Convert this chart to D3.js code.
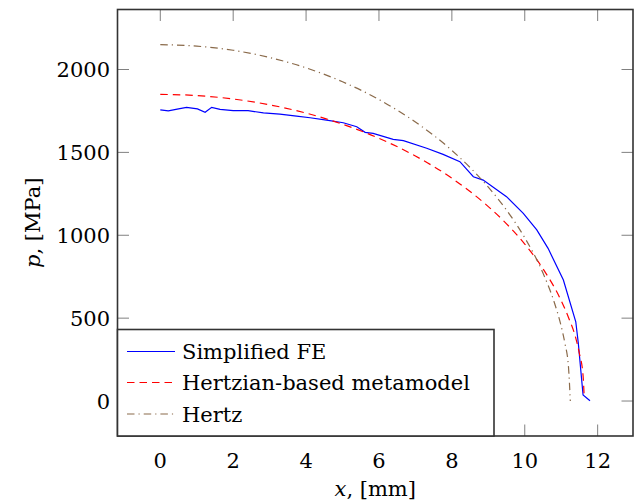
<!DOCTYPE html>
<html>
<head>
<meta charset="utf-8">
<script src="https://cdn.jsdelivr.net/npm/d3@7"></script>
<style>
  body { margin: 0; background: #fff; }
</style>
</head>
<body>
<div id="chart"></div>
<script>
// Simplified FE
const xFE = [0, 0.22, 0.5, 0.72, 1.02, 1.23, 1.41, 1.64, 2.0, 2.41, 2.83, 3.28, 3.74, 4.11, 4.56, 5.02, 5.39, 5.62, 5.84, 6.39, 6.67, 7.31, 7.76, 8.22, 8.59, 8.86, 9.5, 9.96, 10.33, 10.64, 11.06, 11.40, 11.47, 11.6, 11.79];
const pFE = [1757, 1751, 1763, 1772, 1762, 1742, 1772, 1760, 1752, 1752, 1738, 1731, 1719, 1709, 1695, 1679, 1655, 1621, 1615, 1579, 1571, 1525, 1488, 1444, 1353, 1333, 1233, 1132, 1032, 921, 730, 478, 348, 36, 2];

// Hertzian-based metamodel
const xMeta = [0, 1, 2, 3, 4, 5, 6, 7, 8, 9, 9.5, 10, 10.5, 11, 11.2, 11.4, 11.5, 11.6, 11.63];
const pMeta = [1850, 1843, 1822, 1787, 1737, 1670, 1585, 1478, 1344, 1173, 1069, 947, 798, 605, 504, 380, 286, 154, 28];

// Hertz
const xHertz = [0, 1, 2, 3, 4, 5, 6, 7, 8, 9, 9.5, 10, 10.5, 10.8, 11, 11.1, 11.2, 11.25];
const pHertz = [2150, 2141, 2116, 2072, 2010, 1926, 1819, 1683, 1512, 1290, 1152, 985, 772, 602, 451, 350, 205, 0];

const xTicks = [0, 2, 4, 6, 8, 10, 12];
const yTicks = [0, 500, 1000, 1500, 2000];
const legendLabels = ['Simplified FE', 'Hertzian-based metamodel', 'Hertz'];

const W = 636, H = 503;
const frame = {left: 117.5, right: 633, top: 9.5, bottom: 436};
const serif = "'DejaVu Serif', serif";
const fontSize = 21;

const svg = d3.select('#chart').append('svg')
    .attr('width', W)
    .attr('height', H)
    .attr('font-family', serif)
    .style('font-family', serif);

const x = d3.scaleLinear().domain([-1.174, 12.97]).range([frame.left, frame.right]);
const y = d3.scaleLinear().domain([-211, 2362]).range([frame.bottom, frame.top]);

// ticks (inside, mirrored)
const tickLen = 11.5;
const ticks = svg.append('g').attr('stroke', '#808080').attr('stroke-width', 1);
xTicks.forEach(t => {
    ticks.append('line').attr('x1', x(t)).attr('x2', x(t)).attr('y1', frame.bottom).attr('y2', frame.bottom - tickLen);
    ticks.append('line').attr('x1', x(t)).attr('x2', x(t)).attr('y1', frame.top).attr('y2', frame.top + tickLen);
});
yTicks.forEach(t => {
    ticks.append('line').attr('y1', y(t)).attr('y2', y(t)).attr('x1', frame.left).attr('x2', frame.left + tickLen);
    ticks.append('line').attr('y1', y(t)).attr('y2', y(t)).attr('x1', frame.right).attr('x2', frame.right - tickLen);
});

// tick labels
svg.append('g').selectAll('text')
    .data(xTicks)
    .enter().append('text')
    .attr('x', d => x(d))
    .attr('y', 468)
    .attr('text-anchor', 'middle')
    .style('font-size', fontSize + 'px')
    .text(d => d);

svg.append('g').selectAll('text')
    .data(yTicks)
    .enter().append('text')
    .attr('x', 110)
    .attr('y', d => y(d))
    .attr('dy', '0.36em')
    .attr('text-anchor', 'end')
    .style('font-size', fontSize + 'px')
    .text(d => d);

// curves
svg.append('clipPath').attr('id', 'clip')
    .append('rect')
    .attr('x', frame.left).attr('y', frame.top)
    .attr('width', frame.right - frame.left).attr('height', frame.bottom - frame.top);

const line = d3.line().x(d => x(d[0])).y(d => y(d[1]));
const smooth = d3.line().x(d => x(d[0])).y(d => y(d[1])).curve(d3.curveMonotoneX);

const series = [
    {pts: d3.zip(xFE, pFE), color: '#0000ff', dash: null, gen: line},
    {pts: d3.zip(xMeta, pMeta), color: '#ff0000', dash: '7.5,5', gen: smooth},
    {pts: d3.zip(xHertz, pHertz), color: '#8a6a4a', dash: '7.5,4,1.2,4', gen: smooth}
];

const plot = svg.append('g').attr('clip-path', 'url(#clip)');
series.forEach(s => {
    plot.append('path')
        .attr('d', s.gen(s.pts))
        .attr('fill', 'none')
        .attr('stroke', s.color)
        .attr('stroke-width', 1.2)
        .attr('stroke-dasharray', s.dash);
});

// frame
svg.append('rect')
    .attr('x', frame.left).attr('y', frame.top)
    .attr('width', frame.right - frame.left).attr('height', frame.bottom - frame.top)
    .attr('fill', 'none')
    .attr('stroke', '#333')
    .attr('stroke-width', 1.6);

// legend
const legend = svg.append('g');
legend.append('rect')
    .attr('x', frame.left).attr('y', 329.5)
    .attr('width', 494 - frame.left).attr('height', frame.bottom - 329.5)
    .attr('fill', '#fff')
    .attr('stroke', '#333')
    .attr('stroke-width', 1.6);

const rowY = [351.5, 382.5, 414];
series.forEach((s, i) => {
    legend.append('line')
        .attr('x1', 127).attr('x2', 175)
        .attr('y1', rowY[i]).attr('y2', rowY[i])
        .attr('stroke', s.color)
        .attr('stroke-width', 1.2)
        .attr('stroke-dasharray', s.dash);
    legend.append('text')
        .attr('x', 182)
        .attr('y', rowY[i])
        .attr('dy', '0.36em')
        .style('font-size', fontSize + 'px')
        .text(legendLabels[i]);
});

// axis labels
const xl = svg.append('text')
    .attr('x', (frame.left + frame.right) / 2)
    .attr('y', 496)
    .attr('text-anchor', 'middle')
    .style('font-size', fontSize + 'px');
xl.append('tspan').style('font-style', 'italic').text('x');
xl.append('tspan').text(', [mm]');

const yl = svg.append('text')
    .attr('transform', `translate(40,${(frame.top + frame.bottom) / 2}) rotate(-90)`)
    .attr('text-anchor', 'middle')
    .style('font-size', fontSize + 'px');
yl.append('tspan').style('font-style', 'italic').text('p');
yl.append('tspan').text(', [MPa]');
</script>
</body>
</html>
